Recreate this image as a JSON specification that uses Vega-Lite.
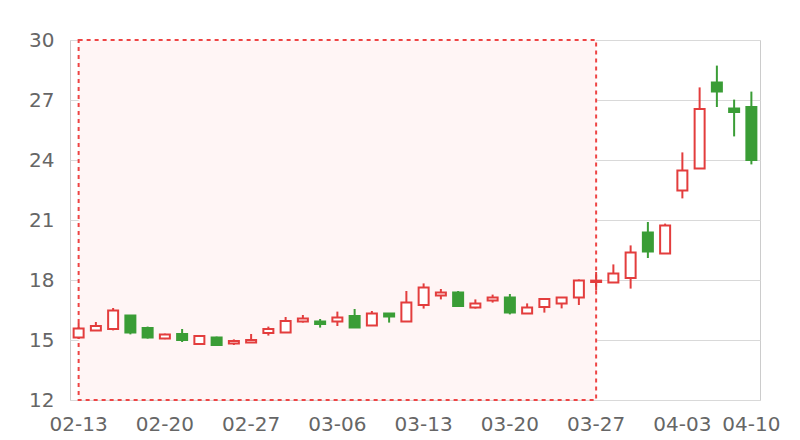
{
  "$schema": "https://vega.github.io/schema/vega-lite/v6.json",
  "autosize": {"type": "none"},
  "width": 690,
  "height": 360,
  "padding": {"left": 70, "top": 40, "right": 40, "bottom": 40},
  "background": "#ffffff",
  "config": {
    "view": {"stroke": "#cccccc", "strokeWidth": 1},
    "font": "DejaVu Sans"
  },
  "datasets": {
    "candles": [
      {"date": "02-13", "open": 15.13, "close": 15.58, "high": 15.85, "low": 15.05},
      {"date": "02-14", "open": 15.47, "close": 15.70, "high": 15.90, "low": 15.45},
      {"date": "02-17", "open": 15.55, "close": 16.47, "high": 16.60, "low": 15.48},
      {"date": "02-18", "open": 16.22, "close": 15.38, "high": 16.25, "low": 15.28},
      {"date": "02-19", "open": 15.60, "close": 15.12, "high": 15.67, "low": 15.07},
      {"date": "02-20", "open": 15.07, "close": 15.28, "high": 15.32, "low": 15.04},
      {"date": "02-21", "open": 15.30, "close": 15.00, "high": 15.55, "low": 14.90},
      {"date": "02-24", "open": 14.80, "close": 15.20, "high": 15.22, "low": 14.78},
      {"date": "02-25", "open": 15.13, "close": 14.75, "high": 15.17, "low": 14.72},
      {"date": "02-26", "open": 14.82, "close": 14.95, "high": 15.03, "low": 14.75},
      {"date": "02-27", "open": 14.87, "close": 15.00, "high": 15.30, "low": 14.87},
      {"date": "02-28", "open": 15.35, "close": 15.55, "high": 15.67, "low": 15.22},
      {"date": "03-03", "open": 15.38, "close": 15.95, "high": 16.15, "low": 15.38},
      {"date": "03-04", "open": 15.92, "close": 16.07, "high": 16.25, "low": 15.87},
      {"date": "03-05", "open": 15.92, "close": 15.80, "high": 16.05, "low": 15.62},
      {"date": "03-06", "open": 15.92, "close": 16.12, "high": 16.42, "low": 15.70},
      {"date": "03-07", "open": 16.20, "close": 15.63, "high": 16.55, "low": 15.63},
      {"date": "03-10", "open": 15.73, "close": 16.33, "high": 16.45, "low": 15.73},
      {"date": "03-11", "open": 16.33, "close": 16.17, "high": 16.35, "low": 15.87},
      {"date": "03-12", "open": 15.92, "close": 16.88, "high": 17.45, "low": 15.92},
      {"date": "03-13", "open": 16.75, "close": 17.63, "high": 17.83, "low": 16.57},
      {"date": "03-14", "open": 17.22, "close": 17.38, "high": 17.55, "low": 17.03},
      {"date": "03-17", "open": 17.37, "close": 16.70, "high": 17.45, "low": 16.70},
      {"date": "03-18", "open": 16.63, "close": 16.83, "high": 17.03, "low": 16.57},
      {"date": "03-19", "open": 16.97, "close": 17.13, "high": 17.27, "low": 16.87},
      {"date": "03-20", "open": 17.13, "close": 16.37, "high": 17.30, "low": 16.28},
      {"date": "03-21", "open": 16.33, "close": 16.63, "high": 16.83, "low": 16.33},
      {"date": "03-24", "open": 16.65, "close": 17.05, "high": 17.05, "low": 16.37},
      {"date": "03-25", "open": 16.83, "close": 17.12, "high": 17.15, "low": 16.58},
      {"date": "03-26", "open": 17.13, "close": 17.97, "high": 18.03, "low": 16.75},
      {"date": "03-27", "open": 17.90, "close": 17.97, "high": 18.40, "low": 17.48},
      {"date": "03-28", "open": 17.88, "close": 18.32, "high": 18.78, "low": 17.88},
      {"date": "03-31", "open": 18.10, "close": 19.37, "high": 19.73, "low": 17.57},
      {"date": "04-01", "open": 20.37, "close": 19.43, "high": 20.90, "low": 19.10},
      {"date": "04-02", "open": 19.32, "close": 20.72, "high": 20.82, "low": 19.32},
      {"date": "04-03", "open": 22.47, "close": 23.48, "high": 24.38, "low": 22.08},
      {"date": "04-07", "open": 23.57, "close": 26.55, "high": 27.63, "low": 23.57},
      {"date": "04-08", "open": 27.87, "close": 27.42, "high": 28.72, "low": 26.65},
      {"date": "04-09", "open": 26.57, "close": 26.40, "high": 27.02, "low": 25.18},
      {"date": "04-10", "open": 26.65, "close": 24.00, "high": 27.42, "low": 23.78}
    ],
    "zone": [{"start": "02-13", "end": "03-27"}]
  },
  "encoding": {
    "x": {
      "field": "date",
      "type": "ordinal",
      "sort": null,
      "scale": {
        "type": "band",
        "paddingInner": 0,
        "paddingOuter": 0,
        "domain": ["02-13","02-14","02-17","02-18","02-19","02-20","02-21","02-24","02-25","02-26","02-27","02-28","03-03","03-04","03-05","03-06","03-07","03-10","03-11","03-12","03-13","03-14","03-17","03-18","03-19","03-20","03-21","03-24","03-25","03-26","03-27","03-28","03-31","04-01","04-02","04-03","04-07","04-08","04-09","04-10"]
      },
      "axis": {
        "title": null,
        "values": ["02-13","02-20","02-27","03-06","03-13","03-20","03-27","04-03","04-10"],
        "labelAngle": 0,
        "labelFontSize": 20,
        "labelColor": "#666666",
        "labelPadding": 14,
        "labelOverlap": false,
        "ticks": false,
        "domain": false,
        "grid": false
      }
    }
  },
  "layer": [
    {
      "data": {"name": "zone"},
      "mark": {"type": "rect", "fill": "#fff5f5", "stroke": "#ee4444", "strokeWidth": 2, "strokeDash": [4, 4]},
      "encoding": {
        "x": {"field": "start", "type": "ordinal", "bandPosition": 0.5},
        "x2": {"field": "end", "bandPosition": 0.5}
      }
    },
    {
      "data": {"name": "candles"},
      "mark": {"type": "rule", "strokeWidth": 2},
      "encoding": {
        "y": {
          "field": "low",
          "type": "quantitative",
          "scale": {"domain": [12, 30], "nice": false, "zero": false},
          "axis": {
            "title": null,
            "values": [12, 15, 18, 21, 24, 27, 30],
            "labelFontSize": 20,
            "labelColor": "#666666",
            "labelPadding": 16,
            "ticks": false,
            "domain": false,
            "gridColor": "#d9d9d9",
            "gridWidth": 1
          }
        },
        "y2": {"field": "high"},
        "color": {
          "condition": {"test": "datum.close >= datum.open", "value": "#e33d3d"},
          "value": "#3a9d36"
        }
      }
    },
    {
      "data": {"name": "candles"},
      "mark": {"type": "bar", "size": 10, "strokeWidth": 2},
      "encoding": {
        "y": {"field": "open", "type": "quantitative"},
        "y2": {"field": "close"},
        "fill": {
          "condition": {"test": "datum.close >= datum.open", "value": "#ffffff"},
          "value": "#3a9d36"
        },
        "stroke": {
          "condition": {"test": "datum.close >= datum.open", "value": "#e33d3d"},
          "value": "#3a9d36"
        }
      }
    }
  ]
}
